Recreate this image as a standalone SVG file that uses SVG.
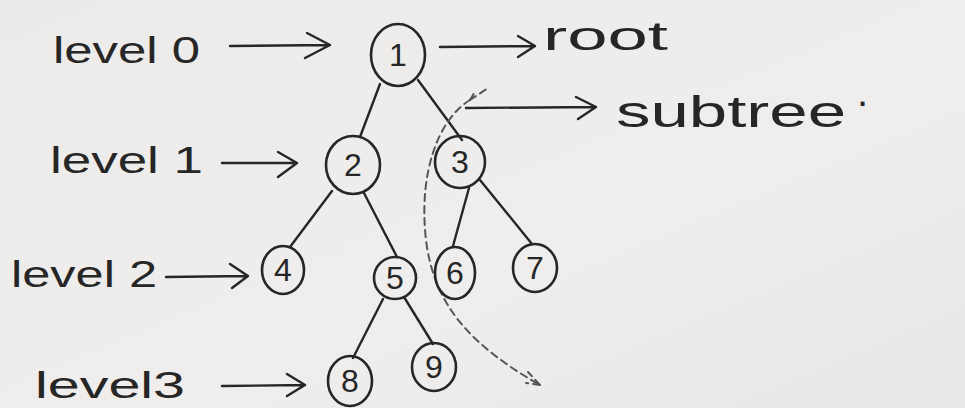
<svg xmlns="http://www.w3.org/2000/svg" width="965" height="408" viewBox="0 0 965 408">
<defs>
<linearGradient id="bg" x1="0" y1="0" x2="1" y2="1">
<stop offset="0" stop-color="#ecebea"/>
<stop offset="0.6" stop-color="#efeeed"/>
<stop offset="1" stop-color="#e9e7e6"/>
</linearGradient>
</defs>
<style>
.ink{fill:none;stroke:#262626;stroke-width:2.4;stroke-linecap:round;stroke-linejoin:round}
.node{fill:none;stroke:#262626;stroke-width:2.6}
.num{font-family:"Liberation Sans","DejaVu Sans",sans-serif;font-size:32px;fill:#262626;text-anchor:middle;dominant-baseline:central}
.lbl{font-family:"Liberation Sans","DejaVu Sans",sans-serif;font-size:36px;fill:#262626}
.dash{fill:none;stroke:#555;stroke-width:2;stroke-dasharray:7 5;stroke-linecap:round}
</style>
<rect width="965" height="408" fill="url(#bg)"/>

<g id="connectors">
<path class="ink" d="M380 84 L360 137"/>
<path class="ink" d="M418 80 L462 140"/>
<path class="ink" d="M332 191 L290 247"/>
<path class="ink" d="M364 193 L397 257"/>
<path class="ink" d="M469 188 L453 246"/>
<path class="ink" d="M480 180 L532 244"/>
<path class="ink" d="M383 299 L353 358"/>
<path class="ink" d="M404 297 L433 344"/>
<!-- label arrows -->
<path class="ink" d="M230 46 L330 45 M307 33 L330 45 L305 58"/>
<path class="ink" d="M222 163 L297 163 M278 152 L297 163 L278 177"/>
<path class="ink" d="M166 277 L248 276 M230 264 L248 276 L232 288"/>
<path class="ink" d="M222 386 L305 385 M287 374 L305 385 L287 396"/>
<path class="ink" d="M440 47 L535 46 M518 36 L535 46 L518 57"/>
<path class="ink" d="M466 108 L596 107 M576 97 L596 107 L578 119"/>
<!-- subtree boundary -->
<path class="dash" d="M470 100 C 440 118, 418 170, 426 240 C 434 305, 470 345, 540 385"/>
<path class="dash" d="M470 100 L 488 88 M470 100 L476 90"/>
<path class="dash" d="M540 385 L 528 372 M540 385 L 526 383"/>
</g>

<g id="node1"><ellipse class="node" cx="398" cy="55" rx="27" ry="31"/><text class="num" x="398" y="55">1</text></g>
<g id="node2"><ellipse class="node" cx="353" cy="165" rx="27" ry="29"/><text class="num" x="353" y="165">2</text></g>
<g id="node3"><ellipse class="node" cx="460" cy="162" rx="25" ry="26"/><text class="num" x="460" y="162">3</text></g>
<g id="node4"><ellipse class="node" cx="283" cy="270" rx="21" ry="24"/><text class="num" x="283" y="270">4</text></g>
<g id="node5"><ellipse class="node" cx="395" cy="278" rx="21" ry="21"/><text class="num" x="395" y="278">5</text></g>
<g id="node6"><ellipse class="node" cx="455" cy="273" rx="20" ry="26"/><text class="num" x="455" y="273">6</text></g>
<g id="node7"><ellipse class="node" cx="535" cy="268" rx="22" ry="24"/><text class="num" x="535" y="268">7</text></g>
<g id="node8"><ellipse class="node" cx="350" cy="381" rx="22" ry="25"/><text class="num" x="350" y="381">8</text></g>
<g id="node9"><ellipse class="node" cx="434" cy="367" rx="22" ry="24"/><text class="num" x="434" y="367">9</text></g>

<g id="labels">
<text class="lbl" x="53" y="63" textLength="147" lengthAdjust="spacingAndGlyphs">level 0</text>
<text class="lbl" x="50" y="173" textLength="153" lengthAdjust="spacingAndGlyphs">level 1</text>
<text class="lbl" x="11" y="287" textLength="146" lengthAdjust="spacingAndGlyphs">level 2</text>
<text class="lbl" x="35" y="398" textLength="150" lengthAdjust="spacingAndGlyphs">level3</text>
<text class="lbl" x="543" y="50" textLength="125" lengthAdjust="spacingAndGlyphs" style="font-size:40px">root</text>
<text class="lbl" x="616" y="127" style="font-size:44px"><tspan textLength="230" lengthAdjust="spacingAndGlyphs">subtree</tspan><tspan x="857" y="106" style="font-size:40px">.</tspan></text>
</g>
</svg>
